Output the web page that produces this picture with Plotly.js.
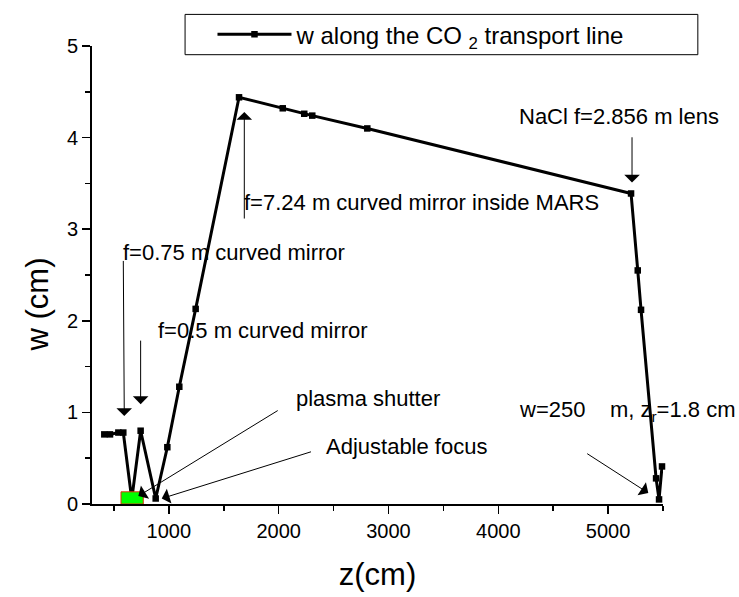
<!DOCTYPE html>
<html>
<head>
<meta charset="utf-8">
<script src="https://cdn.plot.ly/plotly-3.0.1.min.js"></script>
<style>html,body{margin:0;padding:0;background:#fff;}#chart{width:739px;height:597px;}</style>
</head>
<body>
<div id="chart"></div>
<script>
// Beam radius w (cm) along the CO2 transport line, z in cm
const zValues = [412, 464, 540, 585, 662, 743, 880, 986, 1095, 1244, 1639, 2037, 2233, 2306, 2807, 5209, 5270, 5300, 5437, 5464, 5491];
const wValues = [0.76, 0.76, 0.78, 0.78, 0.05, 0.80, 0.06, 0.62, 1.28, 2.13, 4.44, 4.32, 4.26, 4.24, 4.10, 3.39, 2.55, 2.12, 0.28, 0.05, 0.41];
const seriesName = 'w along the CO <sub>2</sub> transport line';
const xTickVals = [1000, 2000, 3000, 4000, 5000];
const yTickVals = [0, 1, 2, 3, 4, 5];
const xTitle = 'z(cm)';
const yTitle = 'w (cm)';

// annotation labels: text, text anchor (z,w), arrow tip (z,w), arrow tail (z,w)
const labelTexts = ['f=7.24 m curved mirror inside MARS', 'NaCl f=2.856 m lens', 'f=0.75 m curved mirror', 'f=0.5 m curved mirror', 'plasma shutter', 'Adjustable focus', 'w=250\u00a0\u00a0\u00a0\u00a0m, z<sub>r</sub>=1.8 cm'];
const labelZ = [1689, 4198, 588, 910, 2171, 2440, 4198];
const labelW = [3.29, 4.23, 2.75, 1.89, 1.155, 0.63, 1.015];
const tipZ = [1687, 5218, 594, 743, 722, 935, 5366];
const tipW = [4.28, 3.51, 0.96, 1.09, 0.086, 0.06, 0.12];
const tailZ = [1687, 5218, 585, 743, 2005, 2308, 4796];
const tailW = [3.10, 4.02, 2.67, 1.80, 1.03, 0.575, 0.56];

// green box (shutter / focus region)
const boxZ = [564, 767];
const boxW = [0, 0.133];

const font = 'Liberation Sans, Arial, Helvetica, sans-serif';

const annotations = [];
for (let i = 0; i < labelTexts.length; i++) {
  annotations.push({
    x: labelZ[i], y: labelW[i], xref: 'x', yref: 'y',
    text: labelTexts[i], showarrow: false,
    xanchor: 'left', yanchor: 'middle', xshift: -3,
    font: {family: font, size: 22, color: '#000'}
  });
  annotations.push({
    x: tipZ[i], y: tipW[i], xref: 'x', yref: 'y',
    ax: tailZ[i], ay: tailW[i], axref: 'x', ayref: 'y',
    text: '', showarrow: true, arrowhead: 1, arrowsize: 2.6, arrowwidth: 1,
    arrowcolor: '#000', standoff: 0, startstandoff: 0
  });
}
// y-axis title (placed as in the reference, below the axis middle)
annotations.push({
  x: -0.096, y: 0.436, xref: 'paper', yref: 'paper',
  text: yTitle, showarrow: false, textangle: -90,
  xanchor: 'center', yanchor: 'middle',
  font: {family: font, size: 31, color: '#000'}
});

const trace = {
  x: zValues, y: wValues, type: 'scatter', mode: 'lines+markers',
  name: seriesName,
  line: {color: '#000', width: 3},
  marker: {symbol: 'square', size: 6.5, color: '#000'},
  cliponaxis: false
};

const layout = {
  width: 739, height: 597,
  margin: {l: 92, r: 76, t: 41, b: 93},
  paper_bgcolor: '#fff', plot_bgcolor: '#fff',
  font: {family: font, color: '#000', size: 20},
  showlegend: true,
  legend: {
    x: 0.211, y: 1.025, xanchor: 'left', yanchor: 'middle',
    borderwidth: 0, bgcolor: 'rgba(0,0,0,0)',
    font: {family: font, size: 24, color: '#000'},
    itemwidth: 74
  },
  xaxis: {
    range: [300, 5500], autorange: false,
    tickvals: xTickVals,
    ticks: 'outside', ticklen: 8, tickwidth: 1.5, tickcolor: '#000',
    minor: {tickvals: [500, 1500, 2500, 3500, 4500, 5500], ticks: 'outside', ticklen: 5, tickwidth: 1.5, tickcolor: '#000'},
    showline: true, linecolor: '#000', linewidth: 2,
    showgrid: false, zeroline: false,
    tickfont: {family: font, size: 20},
    title: {text: xTitle, font: {family: font, size: 31}, standoff: 22}
  },
  yaxis: {
    range: [0, 5], autorange: false,
    tickvals: yTickVals,
    ticks: 'outside', ticklen: 8, tickwidth: 1.5, tickcolor: '#000',
    minor: {tickvals: [0.5, 1.5, 2.5, 3.5, 4.5], ticks: 'outside', ticklen: 5, tickwidth: 1.5, tickcolor: '#000'},
    showline: true, linecolor: '#000', linewidth: 2,
    showgrid: false, zeroline: false,
    tickfont: {family: font, size: 20}
  },
  shapes: [
    {
      type: 'rect', xref: 'x', yref: 'y',
      x0: boxZ[0], x1: boxZ[1], y0: boxW[0], y1: boxW[1],
      fillcolor: '#00ff00', line: {color: '#e03010', width: 1}, layer: 'above'
    },
    {
      type: 'rect', xref: 'paper', yref: 'paper',
      x0: 0.163, x1: 1.061, y0: 0.981, y1: 1.069,
      fillcolor: 'rgba(0,0,0,0)', line: {color: '#000', width: 1}, layer: 'above'
    }
  ],
  annotations: annotations
};

Plotly.newPlot('chart', [trace], layout, {displayModeBar: false, staticPlot: true});
</script>
</body>
</html>
